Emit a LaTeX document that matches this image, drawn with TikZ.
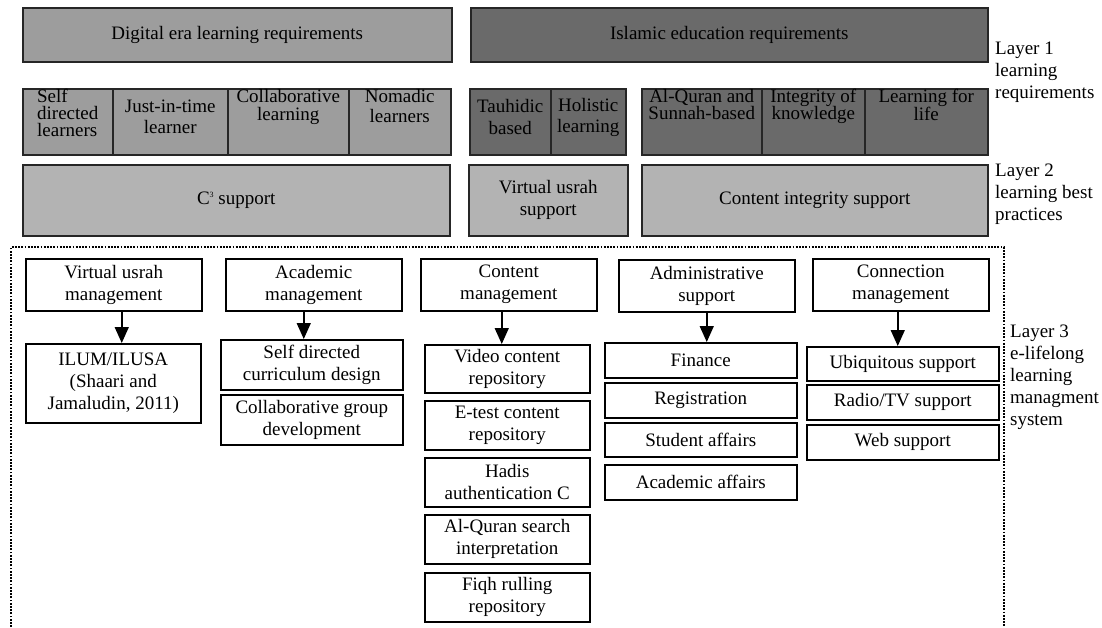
\documentclass[tikz,border=0pt]{standalone}
\usepackage{fontspec}
\setmainfont{Liberation Serif}
\usetikzlibrary{arrows.meta}
\definecolor{digiGrey}{HTML}{9D9D9D}
\definecolor{islamGrey}{HTML}{6A6A6A}
\definecolor{bestGrey}{HTML}{B3B3B3}
\newcommand{\leadfont}[1]{\fontsize{19}{#1}\selectfont\setlength{\lineskiplimit}{-20pt}}

\begin{document}
\begin{tikzpicture}[
  x=1pt, y=-1pt,
  every node/.style={font=\fontsize{19}{22}\selectfont, align=center,
    inner sep=0pt, anchor=north west},
  digibox/.style={fill=digiGrey, draw=black!85, line width=1.5pt},
  islambox/.style={fill=islamGrey, draw=black!85, line width=1.5pt},
  bestbox/.style={fill=bestGrey, draw=black!85, line width=1.5pt},
  lmsbox/.style={fill=white, draw=black, line width=1.5pt},
  lead/.style={font={\leadfont{#1}}},
  layerlabel/.style={align=left},
  link/.style={draw, line width=1.5pt, -{Triangle[length=16pt, width=14pt]}},
  frame/.style={draw, line width=2.2pt, dash pattern=on 1.8pt off 1.4pt}
]
\useasboundingbox (0,0) rectangle (1102,627);

% layer 1: requirements
\node[digibox, minimum width=429pt, minimum height=54pt] (digital) at (22,7) {Digital era learning requirements};
\node[islambox, minimum width=517pt, minimum height=54pt] (islamic) at (470,7) {Islamic education requirements};

\node[digibox, lead=17, align=left, text depth=17pt, minimum width=90pt, minimum height=66pt] (selfdir) at (22,88) {Self\\directed\\learners};
\node[digibox, lead=21, text depth=10pt, minimum width=115pt, minimum height=66pt] (jit) at (112,88) {Just-in-time\\learner};
\node[digibox, lead=18, text depth=33pt, minimum width=121pt, minimum height=66pt] (collab) at (227,88) {Collaborative\\learning};
\node[digibox, lead=20, text depth=31pt, minimum width=102pt, minimum height=66pt] (nomadic) at (348,88) {Nomadic\\learners};

\node[islambox, lead=22, text depth=9pt, minimum width=81pt, minimum height=66pt] (tauhidic) at (469,88) {Tauhidic\\based};
\node[islambox, lead=21, text depth=12pt, minimum width=75pt, minimum height=66pt] (holistic) at (550,88) {Holistic\\learning};
\node[islambox, lead=17, text depth=34pt, minimum width=120pt, minimum height=66pt] (quransunnah) at (641,88) {Al-Quran and\\Sunnah-based};
\node[islambox, lead=17, text depth=34pt, minimum width=103pt, minimum height=66pt] (integrity) at (761,88) {Integrity of\\knowledge};
\node[islambox, lead=18, text depth=33pt, minimum width=123pt, minimum height=66pt] (forlife) at (864,88) {Learning for\\life};

% layer 2: best practices
\node[bestbox, minimum width=427pt, minimum height=71pt] (cthree) at (22,164) {C\raisebox{.8ex}{\fontsize{8}{8}\selectfont 3} support};
\node[bestbox, minimum width=159pt, minimum height=71pt] (usrahsup) at (468,164) {Virtual usrah\\support};
\node[bestbox, minimum width=346pt, minimum height=71pt] (contint) at (641,164) {Content integrity support};

\node[layerlabel] (layer1) at (995,42) {Layer 1\\learning\\requirements};
\node[layerlabel] (layer2) at (995,164) {Layer 2\\learning best\\practices};

% layer 3: e-lifelong learning management system
\draw[frame] (11,627) -- (11,247) -- (1004,247) -- (1004,627);
\node[layerlabel] (layer3) at (1010,325) {Layer 3\\e-lifelong\\learning\\managment\\system};

\node[lmsbox, minimum width=176pt, minimum height=52pt] (usrahmgmt) at (25,258) {Virtual usrah\\management};
\node[lmsbox, minimum width=176pt, minimum height=52pt] (acadmgmt) at (225,258) {Academic\\management};
\node[lmsbox, minimum width=176pt, minimum height=52pt] (contmgmt) at (420,258) {Content\\management};
\node[lmsbox, minimum width=176pt, minimum height=52pt] (admsup) at (618,259) {Administrative\\support};
\node[lmsbox, minimum width=176pt, minimum height=52pt] (connmgmt) at (812,258) {Connection\\management};

\node[lmsbox, minimum width=175pt, minimum height=79pt] (ilum) at (25,343) {ILUM/ILUSA\\(Shaari and\\Jamaludin, 2011)};

\node[lmsbox, minimum width=182pt, minimum height=50pt] (selfcurr) at (220,339) {Self directed\\curriculum design};
\node[lmsbox, minimum width=182pt, minimum height=50pt] (groupdev) at (220,394) {Collaborative group\\development};

\node[lmsbox, minimum width=165pt, minimum height=48pt] (videorep) at (424,344) {Video content\\repository};
\node[lmsbox, minimum width=165pt, minimum height=49pt] (etestrep) at (424,400) {E-test content\\repository};
\node[lmsbox, minimum width=165pt, minimum height=49pt] (hadis) at (424,457) {Hadis\\authentication C};
\node[lmsbox, minimum width=165pt, minimum height=49pt] (quransearch) at (424,514) {Al-Quran search\\interpretation};
\node[lmsbox, minimum width=165pt, minimum height=49pt] (fiqh) at (424,572) {Fiqh rulling\\repository};

\node[lmsbox, minimum width=192pt, minimum height=35pt] (finance) at (604,342) {Finance};
\node[lmsbox, minimum width=192pt, minimum height=35pt] (regist) at (604,382) {Registration};
\node[lmsbox, minimum width=192pt, minimum height=34pt] (student) at (604,422) {Student affairs};
\node[lmsbox, minimum width=192pt, minimum height=35pt] (acaaff) at (604,464) {Academic affairs};

\node[lmsbox, minimum width=192pt, minimum height=34pt] (ubiq) at (806,346) {Ubiquitous support};
\node[lmsbox, minimum width=192pt, minimum height=35pt] (radiotv) at (806,384) {Radio/TV support};
\node[lmsbox, minimum width=192pt, minimum height=35pt] (websup) at (806,424) {Web support};

\draw[link] ([xshift=8pt]usrahmgmt.south) -- ([xshift=8pt]usrahmgmt.south |- ilum.north);
\draw[link] ([xshift=-10pt]acadmgmt.south) -- ([xshift=-10pt]acadmgmt.south |- selfcurr.north);
\draw[link] ([xshift=-7pt]contmgmt.south) -- ([xshift=-7pt]contmgmt.south |- videorep.north);
\draw[link] (admsup.south) -- (admsup.south |- finance.north);
\draw[link] ([xshift=-3pt]connmgmt.south) -- ([xshift=-3pt]connmgmt.south |- ubiq.north);

\end{tikzpicture}
\end{document}
